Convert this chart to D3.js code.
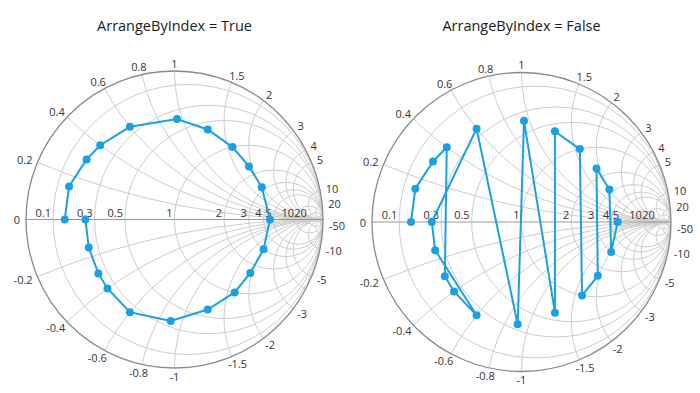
<!DOCTYPE html>
<html>
<head>
<meta charset="utf-8">
<script src="https://cdn.jsdelivr.net/npm/d3@7"></script>
<style>
  body { margin: 0; background: #fff; }
  text { font-family: "Open Sans", "Noto Sans", sans-serif; }
</style>
</head>
<body>
<div id="chart"></div>
<script>
// impedance points (resistance, reactance), in index order
const resistance = [0.15, 0.15, 0.18, 0.2, 0.25, 0.38, 0.6, 1.0, 1.65, 2.8, 4.6, 3.0, 1.65, 1.0, 0.6, 0.35, 0.25, 0.25, 0.25, 0.25, 0.25];
const reactance  = [0, 0.15, 0.3, 0.4, 0.6, 0.95, 1.25, 1.6, 1.9, 2.0, 0, -2.0, -1.95, -1.65, -1.25, -0.9, -0.6, -0.4, -0.3, -0.15, 0];
// order the points are joined in when not arranged by index
const valueOrder = [0, 1, 2, 3, 18, 17, 16, 19, 20, 4, 15, 5, 14, 6, 7, 13, 12, 8, 9, 11, 10];

// grid values and the labels that are shown
const resistanceGrid = [0.1, 0.3, 0.5, 1, 2, 3, 4, 5, 10, 20, 50];
const reactanceGrid = [0.2, 0.4, 0.6, 0.8, 1, 1.5, 2, 3, 4, 5, 10, 20, 50];
const resistanceLabels = [0.1, 0.3, 0.5, 1, 2, 3, 4, 5, 10, 20];
const reactanceLabels = [0, 0.2, 0.4, 0.6, 0.8, 1, 1.5, 2, 3, 4, 5, 10, 20,
  -0.2, -0.4, -0.6, -0.8, -1, -1.5, -2, -3, -5, -10, -50];
const titles = ['ArrangeByIndex = True', 'ArrangeByIndex = False'];

const width = 700, height = 393;
const seriesColor = '#1ba1e2';

const svg = d3.select('#chart').append('svg')
    .attr('width', width)
    .attr('height', height);

const panels = [
  {title: titles[0], cx: 174.5, cy: 219.5, r: 148.5, order: d3.range(resistance.length)},
  {title: titles[1], cx: 521.5, cy: 222, r: 149.5, order: valueOrder}
];

// reflection coefficient from normalized impedance
function gamma(r, x) {
  const d = (r + 1) * (r + 1) + x * x;
  return [(r * r + x * x - 1) / d, 2 * x / d];
}

panels.forEach((p, i) => {
  const xs = d3.scaleLinear().domain([-1, 1]).range([p.cx - p.r, p.cx + p.r]);
  const ys = d3.scaleLinear().domain([-1, 1]).range([p.cy + p.r, p.cy - p.r]);
  const k = p.r; // pixels per unit of gamma

  const g = svg.append('g');

  g.append('text')
      .attr('x', p.cx)
      .attr('y', 25)
      .attr('text-anchor', 'middle')
      .attr('dominant-baseline', 'central')
      .attr('font-size', 14.5)
      .attr('fill', '#1a1a1a')
      .text(p.title);

  const clipId = `clip-${i}`;
  g.append('clipPath').attr('id', clipId)
    .append('circle')
      .attr('cx', xs(0)).attr('cy', ys(0)).attr('r', k);

  const grid = g.append('g').attr('clip-path', `url(#${clipId})`);

  // resistance circles
  grid.selectAll('.rcircle')
      .data(resistanceGrid)
    .join('circle')
      .attr('class', 'rcircle')
      .attr('cx', d => xs(d / (d + 1)))
      .attr('cy', ys(0))
      .attr('r', d => k / (d + 1))
      .attr('fill', 'none')
      .attr('stroke', '#cccccc')
      .attr('stroke-width', 1);

  // reactance arcs
  const xArcs = reactanceGrid.concat(reactanceGrid.map(d => -d));
  grid.selectAll('.xcircle')
      .data(xArcs)
    .join('circle')
      .attr('class', 'xcircle')
      .attr('cx', xs(1))
      .attr('cy', d => ys(1 / d))
      .attr('r', d => k / Math.abs(d))
      .attr('fill', 'none')
      .attr('stroke', '#cccccc')
      .attr('stroke-width', 1);

  // horizontal axis
  g.append('line')
      .attr('x1', xs(-1)).attr('x2', xs(1))
      .attr('y1', ys(0)).attr('y2', ys(0))
      .attr('stroke', '#999')
      .attr('stroke-width', 1);

  // outer circle
  g.append('circle')
      .attr('cx', xs(0)).attr('cy', ys(0)).attr('r', k)
      .attr('fill', 'none')
      .attr('stroke', '#8a8a8a')
      .attr('stroke-width', 1.3);

  // resistance labels, just left of each circle on the axis
  g.selectAll('.rlabel')
      .data(resistanceLabels)
    .join('text')
      .attr('class', 'rlabel')
      .attr('x', d => xs((d - 1) / (d + 1)) - 2)
      .attr('y', ys(0) - 3)
      .attr('text-anchor', 'end')
      .attr('font-size', 11)
      .attr('fill', '#333')
      .text(d => d);

  // reactance labels round the outside
  g.selectAll('.xlabel')
      .data(reactanceLabels)
    .join('text')
      .attr('class', 'xlabel')
      .attr('text-anchor', 'middle')
      .attr('dominant-baseline', 'central')
      .attr('font-size', 11)
      .attr('fill', '#333')
      .text(d => d)
      .each(function(d) {
        const gm = d === 0 ? [-1, 0] : gamma(0, d);
        const w = this.getComputedTextLength();
        const px = xs(gm[0]) + gm[0] * (6 + w / 2);
        const py = ys(gm[1]) - gm[1] * 8;
        d3.select(this).attr('x', px).attr('y', py);
      });

  // series
  const pts = p.order.map(j => gamma(resistance[j], reactance[j]));
  const line = d3.line()
      .x(d => xs(d[0]))
      .y(d => ys(d[1]));

  g.append('path')
      .datum(pts)
      .attr('d', line)
      .attr('fill', 'none')
      .attr('stroke', seriesColor)
      .attr('stroke-width', 2);

  g.selectAll('.marker')
      .data(pts)
    .join('circle')
      .attr('class', 'marker')
      .attr('cx', d => xs(d[0]))
      .attr('cy', d => ys(d[1]))
      .attr('r', 4)
      .attr('fill', seriesColor);
});
</script>
</body>
</html>
